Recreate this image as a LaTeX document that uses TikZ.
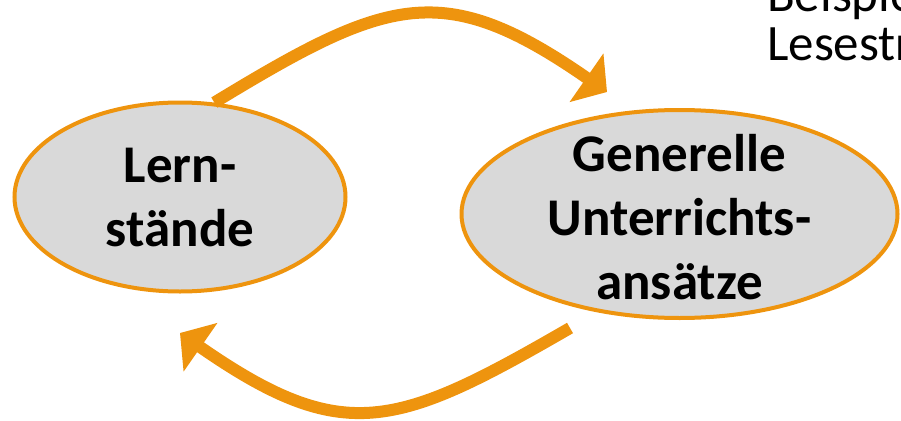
\documentclass[tikz,border=0pt]{standalone}
\usepackage{fontspec}
\setmainfont{Carlito}
\usetikzlibrary{arrows.meta}
\usetikzlibrary{shapes}

\definecolor{cycleOrange}{RGB}{238,148,14}
\definecolor{stateGray}{RGB}{217,217,217}

\begin{document}
\begin{tikzpicture}[x = 1pt, y = -1pt]
	\tikzstyle{stateStyle}=[shape = ellipse, draw = cycleOrange, line width = 4pt, fill = stateGray, inner sep = 0pt]
	\tikzstyle{stateText}=[align = center, inner sep = 0pt, font = \fontsize{53}{64}\selectfont\bfseries]
	\tikzstyle{cycleStyle}=[draw = cycleOrange, line width = 12pt, -{Triangle[length = 25pt, width = 58pt]}]
	\tikzstyle{noteStyle}=[anchor = base west, inner sep = 0pt, font = \fontsize{51}{48}\selectfont]
	\useasboundingbox (0, 0) rectangle (901, 420);
	\clip (0, 0) rectangle (901, 420);
	% the two states
	\node[stateStyle, minimum width = 331pt, minimum height = 189pt, label = {[stateText, yshift = -1pt]center:Lern-\\stände}] (lern) at (180, 197) {};
	\node[stateStyle, minimum width = 436pt, minimum height = 208pt, label = {[stateText, yshift = -3pt]center:Generelle\\Unterrichts-\\ansätze}] (gen) at (679.5, 214) {};
	% note, cut off at the border
	\node[noteStyle] (beispiel) at (767, 12) {Beispiel};
	\node[noteStyle] (lese) at (767, 60) {Lesestrategien};
	% the cycle
	\coordinate (topTip) at (607, 92);
	\coordinate (botStart) at (570, 328);
	\coordinate (botTip) at (180, 333);
	\draw[cycleStyle] (lern.70) .. controls (388, -3) and (443, -22) .. (topTip);
	\draw[cycleStyle] (botStart) .. controls (397, 428) and (344, 447) .. (botTip);
\end{tikzpicture}
\end{document}
